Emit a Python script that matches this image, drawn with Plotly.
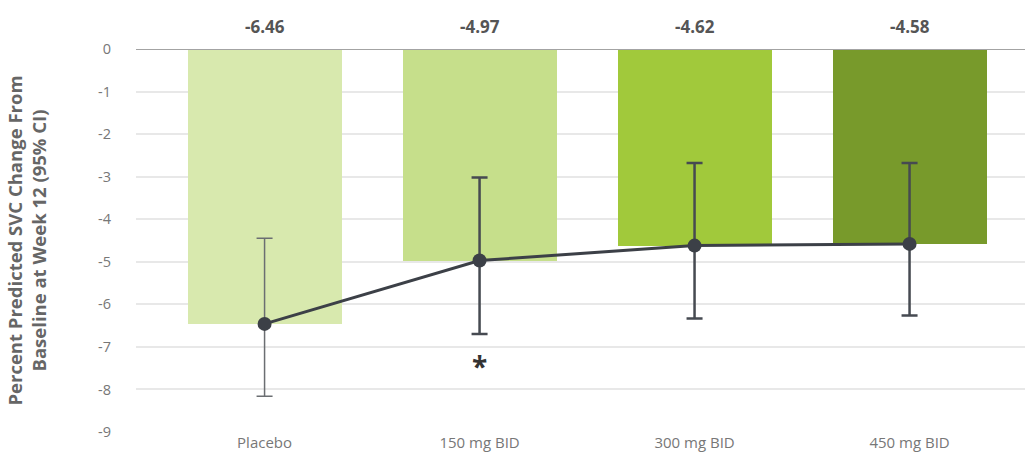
import plotly.graph_objects as go

# Treatment arms and week-12 results
categories = ["Placebo", "150 mg BID", "300 mg BID", "450 mg BID"]
mean_change = [-6.46, -4.97, -4.62, -4.58]
ci_upper = [-4.45, -3.02, -2.68, -2.68]
ci_lower = [-8.16, -6.70, -6.33, -6.26]
value_labels = ["-6.46", "-4.97", "-4.62", "-4.58"]
significant = ["150 mg BID"]
y_ticks = [0, -1, -2, -3, -4, -5, -6, -7, -8, -9]

bar_colors = ["#d8e9ae", "#c6df8b", "#a1c93b", "#789a2b"]
dark = "#3c4047"
font_family = "Open Sans, Noto Sans, sans-serif"

err_plus = [u - m for u, m in zip(ci_upper, mean_change)]
err_minus = [m - l for m, l in zip(mean_change, ci_lower)]

fig = go.Figure()

fig.add_trace(go.Bar(
    x=categories, y=mean_change, width=0.716,
    marker=dict(color=bar_colors, line=dict(width=0)),
    hoverinfo="skip", showlegend=False,
))

# Placebo interval is drawn with a lighter, thinner whisker
fig.add_trace(go.Scatter(
    x=categories[:1], y=mean_change[:1], mode="markers",
    marker=dict(size=1, opacity=0),
    error_y=dict(type="data", symmetric=False,
                 array=err_plus[:1], arrayminus=err_minus[:1],
                 color="#6b6e72", thickness=1.5, width=8),
    showlegend=False, hoverinfo="skip",
))
fig.add_trace(go.Scatter(
    x=categories[1:], y=mean_change[1:], mode="markers",
    marker=dict(size=1, opacity=0),
    error_y=dict(type="data", symmetric=False,
                 array=err_plus[1:], arrayminus=err_minus[1:],
                 color="#464a51", thickness=2.5, width=8),
    showlegend=False, hoverinfo="skip",
))

# Mean trend line with markers
fig.add_trace(go.Scatter(
    x=categories, y=mean_change, mode="lines+markers",
    line=dict(color=dark, width=3),
    marker=dict(color=dark, size=14),
    showlegend=False, hoverinfo="skip",
))

annotations = []
for cat, txt in zip(categories, value_labels):
    annotations.append(dict(
        x=cat, y=1, xref="x", yref="paper", yanchor="bottom", yshift=9,
        text=f"<b>{txt}</b>", showarrow=False,
        font=dict(family=font_family, size=17, color="#555555"),
    ))
for cat in significant:
    annotations.append(dict(
        x=cat, y=-7.45, xref="x", yref="y",
        text="<b>*</b>", showarrow=False,
        font=dict(family=font_family, size=28, color="#333333"),
    ))

fig.update_layout(
    width=1025, height=461,
    margin=dict(l=136, r=0, t=49, b=29),
    paper_bgcolor="white", plot_bgcolor="white",
    font=dict(family=font_family),
    bargap=0,
    annotations=annotations,
    shapes=[dict(type="line", xref="paper", yref="y", x0=0, x1=1, y0=0, y1=0,
                 line=dict(color="#a3a3a3", width=2), layer="above")],
    xaxis=dict(
        type="category", range=[-0.598, 3.537],
        showgrid=False, showline=False, zeroline=False, ticks="",
        tickfont=dict(family=font_family, size=15, color="#777777"),
    ),
    yaxis=dict(
        range=[-9, 0], tickvals=y_ticks, ticktext=[str(v) for v in y_ticks],
        showgrid=True, gridcolor="#e8e8e8", gridwidth=1.5,
        zeroline=False, showline=False, ticks="",
        ticklabelstandoff=24,
        tickfont=dict(family=font_family, size=14.5, color="#777777"),
        title=dict(
            text="<b>Percent Predicted SVC Change From<br>Baseline at Week 12 (95% CI)</b>",
            font=dict(family=font_family, size=18.5, color="#666666"),
            standoff=46,
        ),
    ),
)

fig.write_html("out.html")
